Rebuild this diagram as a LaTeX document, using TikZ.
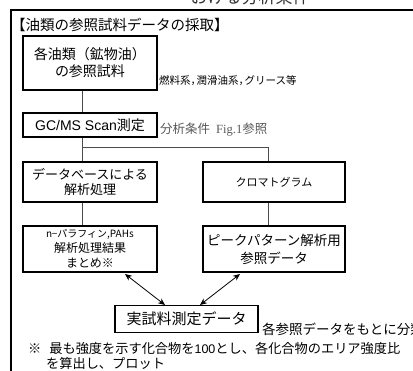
\documentclass[tikz,border=0pt]{standalone}
\usepackage{fontspec}
\setmainfont{Liberation Sans}
\newfontfamily\jp{Noto Sans CJK JP}
\newfontfamily\ser{Liberation Serif}
\usetikzlibrary{arrows.meta}
\begin{document}
\begin{tikzpicture}[x=1pt,y=-1pt,
  box/.style={draw=black,line width=1.8pt,inner sep=0pt,align=center,fill=white},
  conn/.style={draw=black!70,line width=0.9pt},
  dbl/.style={draw=black,line width=0.8pt,{Stealth[length=7pt,width=6pt]}-{Stealth[length=7pt,width=6pt]}},
  lbl/.style={inner sep=0pt,anchor=west}]
\useasboundingbox (0,0) rectangle (413,371);
\clip (0,0) rectangle (413,371);
\fill[white] (0,0) rectangle (413,371);
% outer frame
\coordinate (fTL) at (11,10);
\coordinate (fTR) at (420,10);
\coordinate (fBL) at (11,380);
\draw[line width=2pt] (fTR) -- (fTL) -- (fBL);
\node[inner sep=0pt,text=black!80,font=\jp\fontsize{17}{17}\selectfont] (top) at (250,-3) {おける分析条件};
\node[lbl,font=\jp\fontsize{14.5}{16}\selectfont] (title) at (11,25) {【油類の参照試料データの採取】};
% boxes
\node[box,minimum width=134,minimum height=54,font=\jp\fontsize{14}{17}\selectfont] (b1) at (90,63) {各油類（鉱物油）\\の参照試料};
\node[box,minimum width=134,minimum height=24,font=\fontsize{14}{16}\selectfont] (b2) at (90,125) {GC/MS Scan{\jp 測定}};
\node[box,minimum width=134,minimum height=40,font=\jp\fontsize{13}{15}\selectfont] (b3) at (90,182) {データベースによる\\解析処理};
\node[box,minimum width=142,minimum height=40,font=\jp\fontsize{11}{13}\selectfont] (b4) at (274,182) {クロマトグラム};
\node[box,minimum width=134,minimum height=46,font=\jp\fontsize{12}{15}\selectfont] (b5) at (90,249) {{\fontsize{10}{15}\selectfont n\kern-.5pt−パラフィン,PAHs}\\解析処理結果\\まとめ※};
\node[box,minimum width=142,minimum height=46,font=\jp\fontsize{13.5}{18}\selectfont] (b6) at (274,249) {ピークパターン解析用\\参照データ};
\node[box,minimum width=143,minimum height=27,font=\jp\fontsize{15}{17}\selectfont] (b7) at (186.5,319) {実試料測定データ};
% side labels
\node[lbl,font=\jp\fontsize{10.5}{12}\selectfont] (l1) at (159,81) {燃料系，\kern-4.5pt 潤滑油系，\kern-4.5pt グリース等};
\node[lbl,text=black!65,font=\jp\fontsize{12.5}{14}\selectfont] (l2) at (160,130) {分析条件\hspace{6pt}{\ser Fig.1}参照};
\node[lbl,font=\jp\fontsize{13.5}{14}\selectfont] (l3) at (262,329) {各参照データをもとに分類};
\node[lbl,font=\jp\fontsize{13.2}{14}\selectfont] (n1) at (28,348) {※\hspace{8pt}最も強度を示す化合物を{\fontsize{12.5}{14}\selectfont\rmfamily 100}とし、各化合物のエリア強度比};
\node[lbl,font=\jp\fontsize{13.2}{14}\selectfont] (n2) at (46,363) {を算出し、プロット};
% connectors
\coordinate (cx) at (82,0);
\coordinate (cr) at (268,0);
\coordinate (br) at (0,147);
\draw[conn] (b1.south -| cx) -- (b2.north -| cx);
\draw[conn] (b2.south -| cx) -- (b3.north -| cx);
\draw[conn] (br -| cx) -- (br -| cr) -- (b4.north -| cr);
\draw[conn] (b3.south -| cx) -- (b5.north -| cx);
\draw[conn] (b4.south -| cr) -- (b6.north -| cr);
% double arrows
\coordinate (a1) at (125,274);
\coordinate (a2) at (165,305);
\coordinate (a3) at (240,274);
\coordinate (a4) at (200,305);
\draw[dbl] (a1) -- (a2);
\draw[dbl] (a3) -- (a4);
\end{tikzpicture}
\end{document}
